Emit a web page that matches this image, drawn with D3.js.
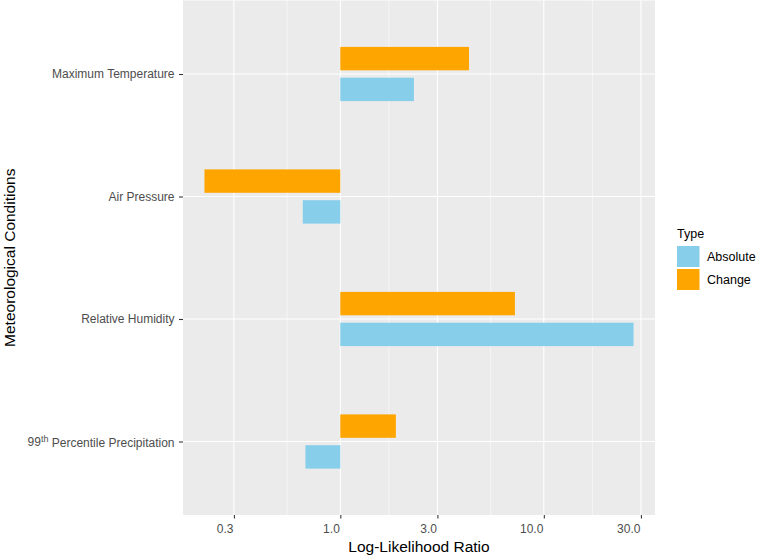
<!DOCTYPE html>
<html>
<head>
<meta charset="utf-8">
<title>Log-Likelihood Ratio by Meteorological Condition</title>
<style>
html, body {
  margin: 0;
  padding: 0;
  background: #fff;
}
svg text {
  font-family: 'Liberation Sans', Arial, sans-serif;
}
.grid-major { stroke: #fff; stroke-width: 1.07px; }
.grid-minor { stroke: #fff; stroke-width: 0.53px; }
.tick-label { fill: #4d4d4d; font-size: 12px; }
.axis-title { fill: #000; font-size: 15.5px; }
</style>
<script src="https://d3js.org/d3.v7.min.js"></script>
</head>
<body>
<svg width="757" height="556"></svg>
<script>

// data
var conditions = ["Maximum Temperature", "Air Pressure", "Relative Humidity", "99th Percentile Precipitation"];
var types = ["Absolute", "Change"];
var absoluteValues = [2.30, 0.654, 27.6, 0.674];
var changeValues = [4.29, 0.215, 7.21, 1.875];
var xTicks = [0.3, 1, 3, 10, 30];

var typeColor = d3.scaleOrdinal().domain(types).range(["#87ceeb", "#ffa500"]);

var svg = d3.select("svg");

var panel = {left: 183, right: 655, top: 0.5, bottom: 515};

// log domain padded 5% like ggplot
var allVals = absoluteValues.concat(changeValues, [1]);
var lo = Math.log10(d3.min(allVals)), hi = Math.log10(d3.max(allVals));
var pad = (hi - lo) * 0.05;

var x = d3.scaleLog()
    .domain([Math.pow(10, lo - pad), Math.pow(10, hi + pad)])
    .range([panel.left, panel.right]);

var y = d3.scalePoint()
    .domain(conditions)
    .range([panel.top, panel.bottom])
    .padding(0.6);

var barH = 23.4, barOff = 15.4;

// panel background
svg.append("rect")
    .attr("x", panel.left)
    .attr("y", panel.top)
    .attr("width", panel.right - panel.left)
    .attr("height", panel.bottom - panel.top)
    .attr("fill", "#ebebeb");

// minor grid halfway between majors in log space
var logTicks = xTicks.map(function(t) { return Math.log10(t); });
var minor = [];
for (var i = 0; i < logTicks.length - 1; i++) {
  minor.push(Math.pow(10, (logTicks[i] + logTicks[i + 1]) / 2));
}

svg.append("g").selectAll("line")
    .data(minor)
    .enter().append("line")
      .attr("class", "grid-minor")
      .attr("x1", function(d) { return x(d); })
      .attr("x2", function(d) { return x(d); })
      .attr("y1", panel.top)
      .attr("y2", panel.bottom);

svg.append("g").selectAll("line")
    .data(xTicks)
    .enter().append("line")
      .attr("class", "grid-major")
      .attr("x1", function(d) { return x(d); })
      .attr("x2", function(d) { return x(d); })
      .attr("y1", panel.top)
      .attr("y2", panel.bottom);

svg.append("g").selectAll("line")
    .data(conditions)
    .enter().append("line")
      .attr("class", "grid-major")
      .attr("x1", panel.left)
      .attr("x2", panel.right)
      .attr("y1", function(d) { return y(d); })
      .attr("y2", function(d) { return y(d); });

// bars drawn from 1 (no effect) out to the value
var rows = [];
conditions.forEach(function(c, i) {
  rows.push({cond: c, type: "Change", value: changeValues[i]});
  rows.push({cond: c, type: "Absolute", value: absoluteValues[i]});
});

svg.append("g").selectAll("rect")
    .data(rows)
    .enter().append("rect")
      .attr("x", function(d) { return Math.min(x(1), x(d.value)); })
      .attr("width", function(d) { return Math.abs(x(d.value) - x(1)); })
      .attr("y", function(d) { return y(d.cond) + (d.type === "Change" ? -barOff : barOff) - barH / 2; })
      .attr("height", barH)
      .attr("fill", function(d) { return typeColor(d.type); });

// x axis
var xAxis = d3.axisBottom(x)
    .tickValues(xTicks)
    .tickFormat(d3.format(".1f"))
    .tickSize(3.5)
    .tickPadding(6);

var gx = svg.append("g")
    .attr("transform", "translate(0," + panel.bottom + ")")
    .call(xAxis);
gx.select(".domain").remove();
gx.selectAll(".tick line").attr("stroke", "#333").attr("stroke-width", 1.07);
// labels sit just left of their tick in the original
gx.selectAll(".tick text")
    .attr("class", "tick-label")
    .attr("font-size", null)
    .attr("font-family", null)
    .attr("text-anchor", "end")
    .attr("x", -1);

// y axis
var yAxis = d3.axisLeft(y)
    .tickSize(4)
    .tickPadding(4)
    .tickFormat("");

var gy = svg.append("g")
    .attr("transform", "translate(" + panel.left + ",0)")
    .call(yAxis);
gy.select(".domain").remove();
gy.selectAll(".tick line").attr("stroke", "#333").attr("stroke-width", 1.07);

gy.selectAll(".tick").append("text")
    .attr("class", "tick-label")
    .attr("x", -8.5)
    .attr("dy", "0.32em")
    .attr("text-anchor", "end")
    .attr("fill", "#4d4d4d")
    .each(function(d) {
      var t = d3.select(this);
      if (d.indexOf("99th") === 0) {
        t.append("tspan").text("99");
        t.append("tspan").attr("dy", "-0.45em").attr("font-size", "9px").text("th");
        t.append("tspan").attr("dy", "0.45em").text(" Percentile Precipitation");
      } else {
        t.text(d);
      }
    });

// axis titles
svg.append("text")
    .attr("class", "axis-title")
    .attr("x", (panel.left + panel.right) / 2)
    .attr("y", 551.5)
    .attr("text-anchor", "middle")
    .text("Log-Likelihood Ratio");

svg.append("text")
    .attr("class", "axis-title")
    .attr("transform", "translate(15," + ((panel.top + panel.bottom) / 2) + ") rotate(-90)")
    .attr("text-anchor", "middle")
    .text("Meteorological Conditions");

// legend
var legend = svg.append("g").attr("transform", "translate(677,0)");

legend.append("text")
    .attr("x", 0)
    .attr("y", 238)
    .attr("font-size", "12.5px")
    .attr("fill", "#000")
    .text("Type");

var keys = legend.selectAll(".key")
    .data(types)
    .enter().append("g")
      .attr("class", "key")
      .attr("transform", function(d, i) { return "translate(0," + (246 + i * 23) + ")"; });

keys.append("rect")
    .attr("width", 22.5)
    .attr("height", 21)
    .attr("fill", function(d) { return typeColor(d); });

keys.append("text")
    .attr("x", 30)
    .attr("y", 10.5)
    .attr("dy", "0.35em")
    .attr("font-size", "12.5px")
    .attr("fill", "#000")
    .text(function(d) { return d; });

</script>
</body>
</html>
